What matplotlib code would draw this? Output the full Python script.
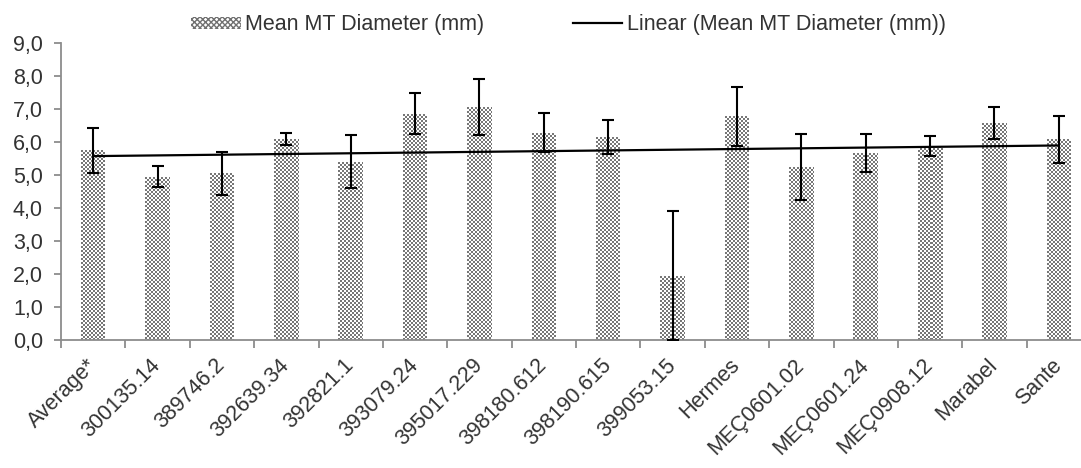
import numpy as np
import matplotlib
matplotlib.use("Agg")
import matplotlib.pyplot as plt
from matplotlib.patches import Patch
from matplotlib.lines import Line2D
from matplotlib.ticker import FuncFormatter

categories = ["Average*", "300135.14", "389746.2", "392639.34", "392821.1", "393079.24",
              "395017.229", "398180.612", "398190.615", "399053.15", "Hermes",
              "MEÇ0601.02", "MEÇ0601.24", "MEÇ0908.12", "Marabel", "Sante"]
means = [5.75, 4.95, 5.05, 6.08, 5.40, 6.85, 7.05, 6.28, 6.15, 1.95, 6.78, 5.25, 5.67, 5.87, 6.58, 6.08]
errors = [0.68, 0.32, 0.65, 0.18, 0.80, 0.62, 0.85, 0.59, 0.52, 1.95, 0.90, 1.00, 0.58, 0.30, 0.48, 0.72]
yticks = [0, 1, 2, 3, 4, 5, 6, 7, 8, 9]
series_label = "Mean MT Diameter (mm)"
trend_label = "Linear (Mean MT Diameter (mm))"

plt.rcParams['font.family'] = ['Liberation Sans', 'DejaVu Sans']
FS = 15.5
W, H, DPI = 1081, 468, 100
fig = plt.figure(figsize=(W / DPI, H / DPI), dpi=DPI)
ax = fig.add_axes([61 / W, 1 - 340 / H, (1091 - 61) / W, (340 - 43) / H])

x = np.arange(len(categories))
bw = 0.38
bars = ax.bar(x, means, width=bw, color='none', edgecolor='none', zorder=2)
ax.set_xlim(-0.5, len(categories) - 0.5)
ax.set_ylim(0, 9)

# checker texture inside each bar, aligned to the pixel grid
grey = np.array([0.47, 0.47, 0.47])
inv = ax.transData.inverted()
for b in bars:
    x0, y0 = b.get_x(), b.get_y()
    x1, y1 = x0 + b.get_width(), y0 + b.get_height()
    (px0, py0), (px1, py1) = np.round(ax.transData.transform([(x0, y0), (x1, y1)]))
    wpx = max(int(px1 - px0), 1)
    hpx = max(int(py1 - py0), 1)
    (ex0, ey0), (ex1, ey1) = inv.transform([(px0, py0), (px0 + wpx, py0 + hpx)])
    jj, ii = np.meshgrid(np.arange(wpx), np.arange(hpx))
    mask = ((ii // 2) + (jj // 2)) % 2 == 0
    img = np.ones((hpx, wpx, 3))
    img[mask] = grey
    ax.imshow(img, extent=(ex0, ex1, ey0, ey1), aspect='auto', interpolation='nearest',
              zorder=2, origin='upper')
ax.set_xlim(-0.5, len(categories) - 0.5)
ax.set_ylim(0, 9)

ax.errorbar(x, means, yerr=errors, fmt='none', ecolor='black', elinewidth=1.5,
            capsize=4.5, capthick=1.5, zorder=4)

coef = np.polyfit(x, means, 1)
ax.plot(x, np.polyval(coef, x), color='black', lw=1.6, zorder=3)

for s in ['top', 'right']:
    ax.spines[s].set_visible(False)
for s in ['left', 'bottom']:
    ax.spines[s].set_color('#8c8c8c')
    ax.spines[s].set_linewidth(1.3)

ax.set_yticks(yticks)
ax.yaxis.set_major_formatter(FuncFormatter(lambda v, p: f"{v:.1f}".replace('.', ',')))
ax.tick_params(axis='y', colors='#8c8c8c', labelcolor='#333333', labelsize=FS, length=5, width=1.3, pad=8)

ax.set_xticks(np.arange(-0.5, len(categories), 1.0))
ax.set_xticklabels([])
ax.tick_params(axis='x', colors='#8c8c8c', length=6, width=1.3)
ax.set_xticks(x, minor=True)
ax.set_xticklabels(categories, minor=True, rotation=45, ha='right', va='center',
                   rotation_mode='anchor', fontsize=FS, color='#333333')
ax.tick_params(axis='x', which='minor', length=0, pad=16)

handles = [Patch(facecolor='white', edgecolor='#707070', hatch='xxxxxx', lw=0),
           Line2D([0], [0], color='black', lw=1.6)]
fig.legend(handles, [series_label, trend_label], loc='center', ncol=2,
           bbox_to_anchor=(0.526, 0.947), frameon=False, fontsize=FS,
           handlelength=2.3, handleheight=0.5, columnspacing=4.1, handletextpad=0.22,
           labelcolor='#333333', borderpad=0, borderaxespad=0)

fig.savefig("out.png", dpi=DPI)
